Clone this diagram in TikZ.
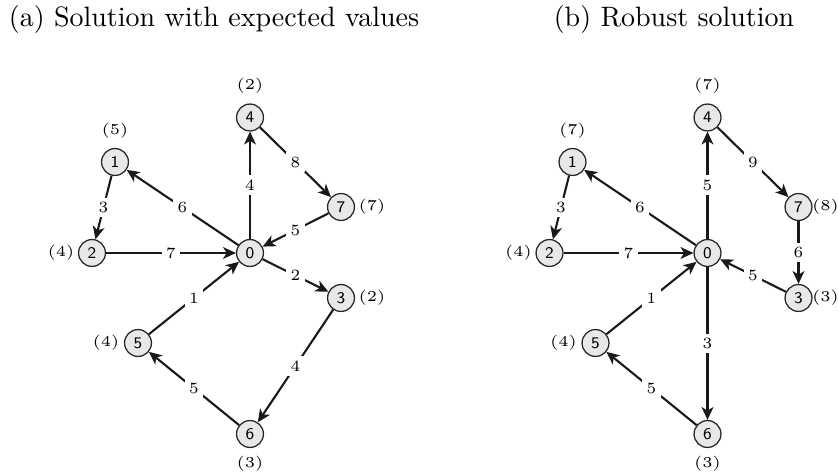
\documentclass[tikz,border=0pt]{standalone}
\usepackage{fontspec}
\usetikzlibrary{arrows.meta}
\begin{document}
\begin{tikzpicture}[x=0.357pt,y=-0.357pt,
  vtx/.style={circle,draw=black!85,line width=0.45pt,fill=gray!18,minimum size=9.6pt,inner sep=0pt,font=\sffamily\fontsize{5.8}{6}\selectfont},
  ann/.style={font=\fontsize{5.4}{6}\selectfont,inner sep=0pt},
  wt/.style={fill=white,inner sep=1.6pt,font=\fontsize{5.6}{6}\selectfont},
  arc/.style={line width=0.75pt,draw=black!90,-{Stealth[length=4.6pt,width=4.2pt,inset=1.3pt]}},
  ttl/.style={font=\fontsize{10}{12}\selectfont,anchor=base,inner sep=0pt}]
\useasboundingbox (0,0) rectangle (838,476);

\node[ttl] (ta) at (214,27) {(a) Solution with expected values};
\node[ttl] (tb) at (674,27) {(b) Robust solution};

% (a)
\node[vtx] (L0) at (250,253) {0};
\node[vtx] (L4) at (250,117.5) {4};
\node[vtx] (L7) at (341,207) {7};
\node[vtx] (L1) at (115,162) {1};
\node[vtx] (L2) at (92,253) {2};
\node[vtx] (L3) at (341,298) {3};
\node[vtx] (L5) at (138,343) {5};
\node[vtx] (L6) at (250,434) {6};

\node[ann] (La1) at (115,131) {(5)};
\node[ann] (La2) at (61,253) {(4)};
\node[ann] (La4) at (250,86) {(2)};
\node[ann] (La7) at (372,207) {(7)};
\node[ann] (La3) at (372,298) {(2)};
\node[ann] (La5) at (106,343) {(4)};
\node[ann] (La6) at (250,464) {(3)};

\draw[arc] (L0) -- node[wt]{6} (L1);
\draw[arc] (L1) -- node[wt]{3} (L2);
\draw[arc] (L2) -- node[wt]{7} (L0);
\draw[arc] (L0) -- node[wt]{4} (L4);
\draw[arc] (L4) -- node[wt]{8} (L7);
\draw[arc] (L7) -- node[wt]{5} (L0);
\draw[arc] (L0) -- node[wt]{2} (L3);
\draw[arc] (L3) -- node[wt]{4} (L6);
\draw[arc] (L6) -- node[wt]{5} (L5);
\draw[arc] (L5) -- node[wt]{1} (L0);

% (b)
\begin{scope}[shift={(457.5,0)}]
\node[vtx] (R0) at (250,253) {0};
\node[vtx] (R4) at (250,117.5) {4};
\node[vtx] (R7) at (341,207) {7};
\node[vtx] (R1) at (115,162) {1};
\node[vtx] (R2) at (92,253) {2};
\node[vtx] (R3) at (341,298) {3};
\node[vtx] (R5) at (138,343) {5};
\node[vtx] (R6) at (250,434) {6};

\node[ann] (Ra1) at (115,131) {(7)};
\node[ann] (Ra2) at (61,253) {(4)};
\node[ann] (Ra4) at (250,86) {(7)};
\node[ann] (Ra7) at (368,207) {(8)};
\node[ann] (Ra3) at (368,298) {(3)};
\node[ann] (Ra5) at (106,343) {(4)};
\node[ann] (Ra6) at (250,464) {(3)};
\end{scope}

\draw[arc] (R0) -- node[wt]{6} (R1);
\draw[arc] (R1) -- node[wt]{3} (R2);
\draw[arc] (R2) -- node[wt]{7} (R0);
\draw[arc] (R0) -- node[wt]{5} (R4);
\draw[arc] (R4) -- node[wt]{9} (R7);
\draw[arc] (R7) -- node[wt]{6} (R3);
\draw[arc] (R3) -- node[wt]{5} (R0);
\draw[arc] (R0) -- node[wt]{3} (R6);
\draw[arc] (R6) -- node[wt]{5} (R5);
\draw[arc] (R5) -- node[wt]{1} (R0);
\end{tikzpicture}
\end{document}
